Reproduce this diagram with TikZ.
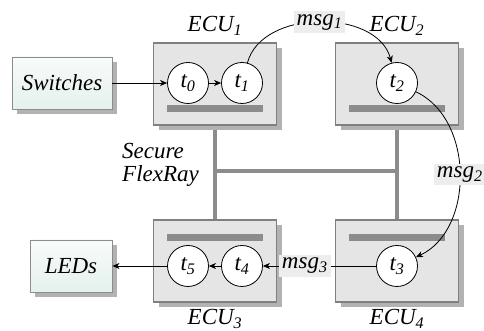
\documentclass[tikz,border=0pt]{standalone}
\usepackage{fontspec}
\setmainfont{Liberation Serif}
\usetikzlibrary{arrows.meta,shadows,backgrounds}
\definecolor{iotop}{RGB}{248,251,250}
\definecolor{iobot}{RGB}{228,241,236}

\begin{document}
\begin{tikzpicture}
	[x=1pt,y=1pt,
	every node/.style={font=\fontsize{23}{23.5}\selectfont\itshape},
	ecubox/.style={draw=black!50,line width=1.5pt,fill=black!10,minimum width=123pt,minimum height=82pt,
		drop shadow={shadow xshift=5pt,shadow yshift=-5pt,fill=black!30,opacity=1}},
	busbar/.style={fill=black!45,minimum width=96pt,minimum height=7pt,inner sep=0pt},
	tasknode/.style={draw,circle,line width=0.8pt,fill=white,minimum size=41pt,inner sep=0pt},
	iobox/.style={draw=black!45,line width=0.8pt,top color=iotop,bottom color=iobot,minimum height=52pt,
		drop shadow={shadow xshift=5pt,shadow yshift=-5pt,fill=black!30,opacity=1}},
	msglbl/.style={fill=black!7,inner sep=3pt},
	flow/.style={-{Stealth[length=7pt,width=6pt,inset=2pt]},line width=0.8pt},
	buswire/.style={draw=black!45,line width=4pt}]
	\useasboundingbox (0,0) rectangle (484,331);
	\node[ecubox] (ecu1) at (215,247) {};
	\node[ecubox] (ecu2) at (397,247) {};
	\node[ecubox] (ecu3) at (215,70) {};
	\node[ecubox] (ecu4) at (397,70) {};
	\node[busbar] (bar1) at (215,222) {};
	\node[busbar] (bar2) at (397,222) {};
	\node[busbar] (bar3) at (215,93) {};
	\node[busbar] (bar4) at (397,93) {};
	\node[anchor=base] (ecu1lbl) at (215,299) {ECU\textsubscript{1}};
	\node[anchor=base] (ecu2lbl) at (397,299) {ECU\textsubscript{2}};
	\node[anchor=base] (ecu3lbl) at (215,6) {ECU\textsubscript{3}};
	\node[anchor=base] (ecu4lbl) at (397,6) {ECU\textsubscript{4}};
	\node[iobox,minimum width=100pt] (switches) at (62,248) {Switches};
	\node[iobox,minimum width=82pt] (leds) at (71,65) {LEDs};
	\node[tasknode] (t0) at (188,248) {t\textsubscript{0}};
	\node[tasknode] (t1) at (242,248) {t\textsubscript{1}};
	\node[tasknode] (t2) at (397,248) {t\textsubscript{2}};
	\node[tasknode] (t3) at (397,65) {t\textsubscript{3}};
	\node[tasknode] (t4) at (242,65) {t\textsubscript{4}};
	\node[tasknode] (t5) at (188,65) {t\textsubscript{5}};
	\node[anchor=west,align=left,inner sep=0pt] (flexray) at (122,166) {Secure\\FlexRay};
	\begin{scope}[on background layer]
		\coordinate (busl) at (215,160);
		\coordinate (busr) at (397,160);
		\draw[buswire] (ecu1.south) -- (ecu3.north);
		\draw[buswire] (ecu2.south) -- (ecu4.north);
		\draw[buswire] (busl) -- (busr);
	\end{scope}
	\draw[flow] (switches) -- (t0);
	\draw[flow] (t0) -- (t1);
	\draw[flow] (t1) to[out=75,in=105] node[msglbl] (m1) {msg\textsubscript{1}} (t2);
	\draw[flow] (t2) to[out=-25,in=25] node[msglbl] (m2) {msg\textsubscript{2}} (t3);
	\draw[flow] (t3) -- node[msglbl,pos=0.63] (m3) {msg\textsubscript{3}} (t4);
	\draw[flow] (t4) -- (t5);
	\draw[flow] (t5) -- (leds);
\end{tikzpicture}
\end{document}
